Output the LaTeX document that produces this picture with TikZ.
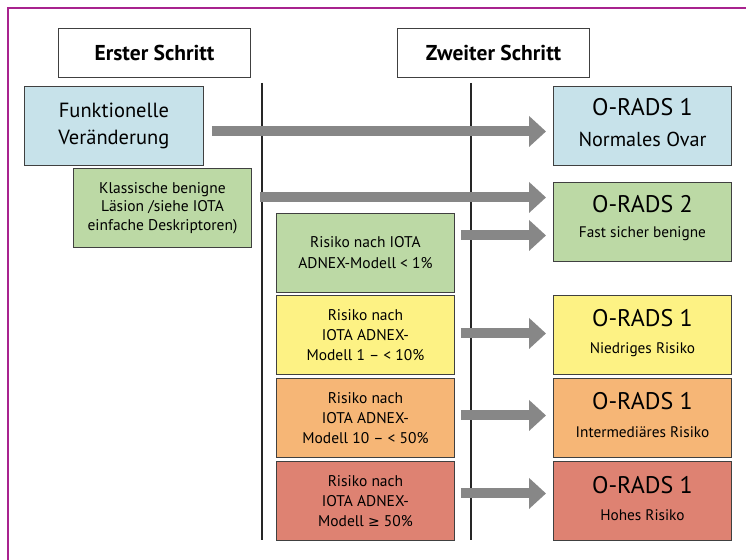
\documentclass[tikz,border=0pt]{standalone}
\usepackage{fontspec}
\setmainfont{PT Sans}
\newfontfamily\symfont{DejaVu Sans}
\usetikzlibrary{arrows.meta}
\definecolor{framec}{HTML}{A8238E}
\definecolor{boxline}{HTML}{404040}
\definecolor{cblue}{HTML}{C7E2EA}
\definecolor{cgreen}{HTML}{BCD9A5}
\definecolor{cyellow}{HTML}{FDF284}
\definecolor{corange}{HTML}{F6B676}
\definecolor{cred}{HTML}{DE8272}
\definecolor{arrowc}{HTML}{878787}
\begin{document}
\begin{tikzpicture}[x=1pt,y=-1pt,
  box/.style={draw=boxline, line width=0.9pt, inner sep=0pt, align=center, anchor=north west},
  headbox/.style={box, fill=white, minimum width=192pt, minimum height=49pt, font=\bfseries\fontsize{21.5}{24}\selectfont},
  bigbox/.style={box, minimum width=179pt, minimum height=79pt},
  smallbox/.style={box, minimum width=178pt, minimum height=79pt, font=\fontsize{15.5}{20}\selectfont},
  orads/.style={box, minimum width=178pt, minimum height=79pt},
  bigtxt/.style={anchor=base, inner sep=0pt, font=\fontsize{24}{28}\selectfont},
  subtxt/.style={anchor=base, inner sep=0pt, font=\fontsize{15.3}{18}\selectfont},
  bigarrow/.style={draw=arrowc, line width=10pt, -{Triangle[length=17pt,width=30pt]}},
  divider/.style={draw=black!85, line width=2.2pt}
]
\useasboundingbox (0,0) rectangle (746,559);
\fill[white] (0,0) rectangle (746,559);
\draw[framec, line width=2pt] (8,8) rectangle (780,600);

% headers
\node[headbox] (h1) at (58,28) {Erster Schritt};
\node[headbox] (h2) at (397,28) {Zweiter Schritt};

% dividers
\coordinate (d1t) at (262,83);
\coordinate (d1b) at (262,540);
\coordinate (d2t) at (471,83);
\coordinate (d2b) at (471,540);
\draw[divider] (d1t) -- (d1b);
\draw[divider] (d2t) -- (d2b);

% left boxes
\node[bigbox, fill=cblue, font=\fontsize{20.5}{27}\selectfont] (fv) at (24,86) {Funktionelle\\Veränderung};
\node[smallbox, fill=cgreen, font=\fontsize{15.5}{18.5}\selectfont] (kb) at (73,168) {Klassische benigne\\Läsion /siehe IOTA\\einfache Deskriptoren)};
\node[smallbox, fill=cgreen, font=\fontsize{15.5}{21}\selectfont] (r1) at (276,213) {Risiko nach IOTA\\ADNEX-Modell < 1\%};
\node[smallbox, fill=cyellow] (r2) at (276,295) {Risiko nach\\IOTA ADNEX-\\Modell 1 – < 10\%};
\node[smallbox, fill=corange] (r3) at (276,378) {Risiko nach\\IOTA ADNEX-\\Modell 10 – < 50\%};
\node[smallbox, fill=cred] (r4) at (276,461) {Risiko nach\\IOTA ADNEX-\\Modell {\symfont\fontsize{14}{20}\selectfont ≥} 50\%};

% right boxes
\node[orads, fill=cblue] (o1) at (553,86) {};
\node[orads, fill=cgreen] (o2) at (553,182) {};
\node[orads, fill=cyellow] (o3) at (553,295) {};
\node[orads, fill=corange] (o4) at (553,378) {};
\node[orads, fill=cred] (o5) at (553,461) {};

\node[bigtxt] (o1a) at ([yshift=-30pt]o1.north) {O-RADS 1};
\node[anchor=base, inner sep=0pt, font=\fontsize{20.2}{24}\selectfont] (o1b) at ([yshift=-60pt]o1.north) {Normales Ovar};
\node[bigtxt] (o2a) at ([yshift=-30pt]o2.north) {O-RADS 2};
\node[subtxt] (o2b) at ([yshift=-55pt]o2.north) {Fast sicher benigne};
\node[bigtxt] (o3a) at ([yshift=-31pt]o3.north) {O-RADS 1};
\node[subtxt] (o3b) at ([yshift=-58.5pt]o3.north) {Niedriges Risiko};
\node[bigtxt] (o4a) at ([yshift=-31pt]o4.north) {O-RADS 1};
\node[subtxt] (o4b) at ([yshift=-59pt]o4.north) {Intermediäres Risiko};
\node[bigtxt] (o5a) at ([yshift=-32pt]o5.north) {O-RADS 1};
\node[subtxt] (o5b) at ([yshift=-59pt]o5.north) {Hohes Risiko};

% arrows
\draw[bigarrow] ([xshift=8pt,yshift=-5.5pt]fv.east) -- ([xshift=-7pt,yshift=-5.5pt]fv.east -| o1.west);
\draw[bigarrow] ([xshift=8pt,yshift=10.5pt]kb.east) -- ([xshift=-7pt,yshift=10.5pt]kb.east -| o2.west);
\draw[bigarrow] ([xshift=6pt,yshift=17.5pt]r1.east) -- ([xshift=-7pt,yshift=17.5pt]r1.east -| o2.west);
\draw[bigarrow] ([xshift=6pt,yshift=1.5pt]r2.east) -- ([xshift=-7pt,yshift=1.5pt]r2.east -| o3.west);
\draw[bigarrow] ([xshift=6pt,yshift=2.5pt]r3.east) -- ([xshift=-7pt,yshift=2.5pt]r3.east -| o4.west);
\draw[bigarrow] ([xshift=6pt,yshift=7.5pt]r4.east) -- ([xshift=-7pt,yshift=7.5pt]r4.east -| o5.west);
\end{tikzpicture}
\end{document}
